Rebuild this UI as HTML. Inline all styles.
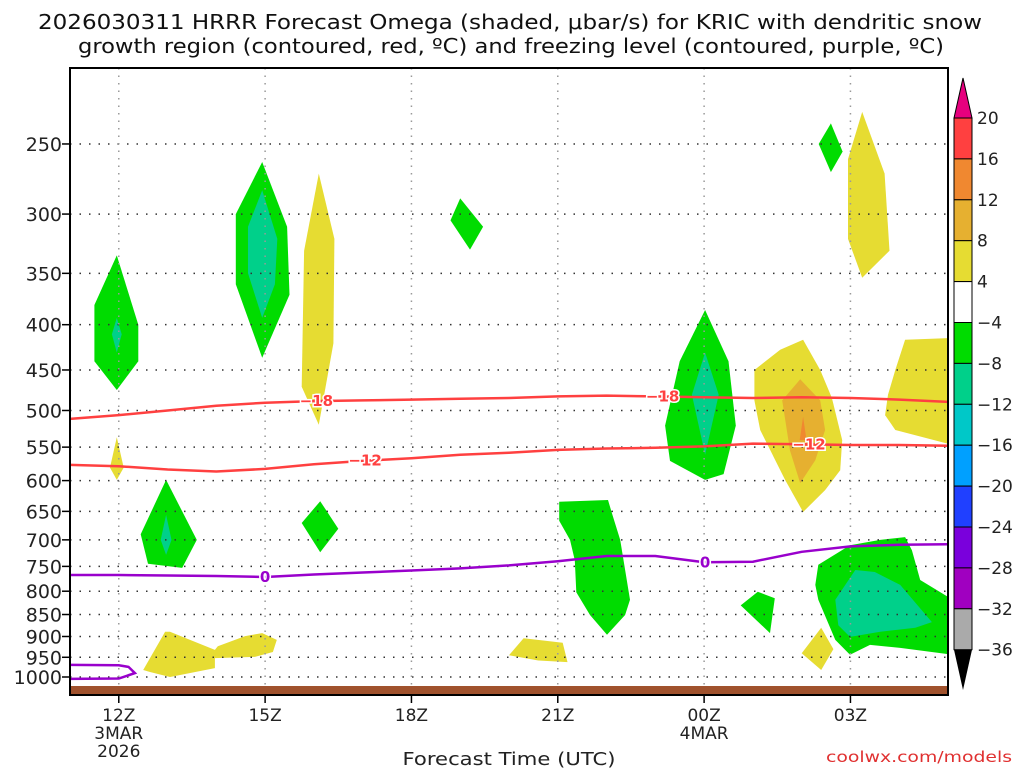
<!DOCTYPE html>
<html><head><meta charset="utf-8"><style>
body{margin:0;background:#fff;}
svg{display:block;font-family:"Liberation Sans",sans-serif;}
</style></head><body>
<svg id="chart" width="1024" height="768" viewBox="0 0 1024 768">
<text x="510" y="29" font-size="20" font-family="DejaVu Sans" text-anchor="middle" fill="#111" textLength="944" lengthAdjust="spacingAndGlyphs">2026030311 HRRR Forecast Omega (shaded, μbar/s) for KRIC with dendritic snow</text>
<text x="511" y="53" font-size="20" font-family="DejaVu Sans" text-anchor="middle" fill="#111" textLength="866" lengthAdjust="spacingAndGlyphs">growth region (contoured, red, ºC) and freezing level (contoured, purple, ºC)</text>
<g id="fills"></g>
<g id="grid"></g>
<g id="lines"></g>
<rect x="70" y="686" width="878" height="9" fill="#a0522d"/>
<rect x="70" y="68" width="878" height="627" fill="none" stroke="#000" stroke-width="2"/>
<g id="axes"></g>
<text x="509" y="765" font-size="18" font-family="DejaVu Sans" text-anchor="middle" fill="#222" textLength="213" lengthAdjust="spacingAndGlyphs">Forecast Time (UTC)</text>
<text x="1012" y="762" font-size="15" font-family="DejaVu Sans" text-anchor="end" fill="#e03030" textLength="186" lengthAdjust="spacingAndGlyphs">coolwx.com/models</text>
<g id="cbar"></g>
</svg>
<script>
const NS="http://www.w3.org/2000/svg";
const pLevels=[250,300,350,400,450,500,550,600,650,700,750,800,850,900,950,1000];
const xTickHours=[1,4,7,10,13,16];
const xTickLabels=["12Z","15Z","18Z","21Z","00Z","03Z"];
const hours=[0,1,2,3,4,5,6,7,8,9,10,11,12,13,14,15,16,17,18];
const dgz18=[511,506,500,494,490,488,487,486,485,484,482,481,482,483,484,483,484,486,489];
const dgz12=[576,578,583,586,582,575,570,566,561,558,554,552,551,549,545,546,547,547,548];
const frz0=[767,767,768,769,771,766,762,758,754,748,740,730,730,742,741,722,712,709,708];
const cbLevels=["20","16","12","8","4","−4","−8","−12","−16","−20","−24","−28","−32","−36"];
const cbColors=["#ff4040","#f08830","#e6b030","#e6dc32","#ffffff","#00dc00","#00d08a","#00c8c8","#00a0ff","#2040ff","#7a00dc","#a000c0","#aaaaaa"];
// blobs: [hour, pressure] polygons
const blobs=[
 {c:"#00dc00",pts:[[0.96,334],[1.4,400],[1.4,440],[0.96,474],[0.5,440],[0.5,380]]},
 {c:"#00d08a",pts:[[0.96,393],[1.06,410],[0.96,430],[0.86,410]]},
 {c:"#00dc00",pts:[[3.94,262],[4.45,310],[4.5,370],[3.94,436],[3.4,360],[3.4,300]]},
 {c:"#00d08a",pts:[[3.94,282],[4.25,320],[4.2,360],[3.94,393],[3.65,350],[3.65,310]]},
 {c:"#e6dc32",pts:[[5.1,270],[5.42,320],[5.4,420],[5.1,519],[4.75,470],[4.8,330]]},
 {c:"#00dc00",pts:[[8.0,288],[8.47,310],[8.2,329],[7.8,305]]},
 {c:"#e6dc32",pts:[[0.96,536],[1.1,580],[0.96,599],[0.82,580]]},
 {c:"#00dc00",pts:[[1.97,599],[2.6,700],[2.3,753],[1.6,745],[1.45,690]]},
 {c:"#00d08a",pts:[[1.97,656],[2.08,700],[1.97,728],[1.86,700]]},
 {c:"#00dc00",pts:[[5.13,633],[5.5,680],[5.13,723],[4.75,670]]},
 {c:"#00dc00",pts:[[13.02,385],[13.5,440],[13.65,520],[13.4,590],[13.02,599],[12.3,570],[12.2,520],[12.5,440]]},
 {c:"#00d08a",pts:[[13.02,430],[13.3,480],[13.02,561],[12.75,480]]},
 {c:"#e6dc32",pts:[[14.03,450],[14.56,427],[15.03,416],[15.38,450],[15.62,484],[15.83,540],[15.79,584],[15.48,615],[15.03,651],[14.66,599],[14.15,526],[14.03,487]]},
 {c:"#e6b030",pts:[[14.97,461],[15.38,487],[15.48,526],[15.28,569],[14.97,604],[14.76,555],[14.6,487]]},
 {c:"#f08830",pts:[[15.03,508],[15.1,540],[14.96,540]]},
 {c:"#e6dc32",pts:[[16.24,230],[16.7,270],[16.8,330],[16.24,354],[15.95,320],[15.95,260]]},
 {c:"#00dc00",pts:[[15.6,237],[15.84,255],[15.6,269],[15.35,250]]},
 {c:"#e6dc32",pts:[[18.1,414],[17.12,416],[16.92,450],[16.77,480],[16.71,506],[16.92,526],[18.1,547]]},
 {c:"#00dc00",pts:[[10.03,634],[11.03,631],[11.11,653],[11.28,700],[11.48,818],[11.38,851],[11.01,896],[10.66,851],[10.38,802],[10.35,738],[10.25,700],[10.03,666]]},
 {c:"#00dc00",pts:[[15.34,747],[15.99,710],[16.61,700],[17.12,695],[17.26,719],[17.43,777],[18.1,818],[18.1,944],[17.02,927],[16.4,920],[15.99,944],[15.69,908],[15.34,818],[15.28,787]]},
 {c:"#00d08a",pts:[[15.69,818],[16.1,757],[16.5,761],[17.02,787],[17.67,867],[17.33,880],[16.61,889],[15.99,901],[15.75,874]]},
 {c:"#00dc00",pts:[[14.1,801],[14.45,815],[14.35,892],[13.75,830]]},
 {c:"#e6dc32",pts:[[9.3,904],[10.1,915],[10.2,962],[9.6,958],[9.0,945]]},
 {c:"#e6dc32",pts:[[15.4,880],[15.65,930],[15.4,982],[15.0,940]]},
 {c:"#e6dc32",pts:[[1.5,982],[1.95,889],[2.05,889],[2.97,932],[3.03,923],[3.59,899],[3.94,892],[4.24,908],[4.16,937],[3.79,949],[2.97,952],[2.97,977],[2.05,1000],[1.64,987]]}
];
const frzLow=[[0,969],[1.0,970],[1.2,974],[1.33,990],[1.0,1004],[0,1005]];
const X0=70,X1=948,H0=0,H1=18.0;
function xs(h){return X0+(h-H0)*(X1-X0)/(H1-H0);}
function ys(p){return 677-384.5*Math.log(1000/p);}
function el(t,a,parent){const e=document.createElementNS(NS,t);for(const k in a)e.setAttribute(k,a[k]);parent.appendChild(e);return e;}
const fills=document.getElementById('fills');
const clip=el('clipPath',{id:'pc'},document.getElementById('chart'));
el('rect',{x:70,y:68,width:878,height:627},clip);
fills.setAttribute('clip-path','url(#pc)');
blobs.forEach((b,i)=>{
 const e=el('polygon',{points:b.pts.map(q=>xs(q[0]).toFixed(1)+','+ys(q[1]).toFixed(1)).join(' '),fill:b.c},fills);
 
 
});
const grid=document.getElementById('grid');
pLevels.forEach(p=>{
 const e=el('line',{x1:70,x2:948,y1:ys(p),y2:ys(p),stroke:'#333','stroke-width':1.5,'stroke-dasharray':'1.5 8'},grid);
 
 
});
xTickHours.forEach(h=>{
 const e=el('line',{x1:xs(h),x2:xs(h),y1:68,y2:695,stroke:'#999','stroke-width':1.5,'stroke-dasharray':'1.5 6'},grid);
 
 
});
const lines=document.getElementById('lines');
function drawLine(arr,color,name,labels,lbl){
 const d=hours.map((h,i)=>(i?'L':'M')+xs(h).toFixed(1)+','+ys(arr[i]).toFixed(1)).join(' ');
 const e=el('path',{d:d,fill:'none',stroke:color,'stroke-width':2.5},lines);
 
 
 labels.forEach(h=>{
  const i=Math.floor(h),f=h-i;const p=arr[i]+(arr[Math.min(i+1,18)]-arr[i])*f;
  const x=xs(h),y=ys(p);
  const t=el('text',{x:x,y:y+5,'font-size':15,'font-weight':'bold','font-family':'DejaVu Sans','text-anchor':'middle',fill:color,stroke:'#fff','stroke-width':3,'paint-order':'stroke'},lines);
  t.textContent=lbl;
  
  
 });
}
drawLine(dgz18,'#ff4040','dgz-minus18-line',[5.05,12.15],'−18');
drawLine(dgz12,'#ff4040','dgz-minus12-line',[6.05,15.15],'−12');
drawLine(frz0,'#9900cc','freezing-level-line',[4.0,13.02],'0');
const fl=el('path',{d:frzLow.map((q,i)=>(i?'L':'M')+xs(q[0]).toFixed(1)+','+ys(q[1]).toFixed(1)).join(' '),fill:'none',stroke:'#9900cc','stroke-width':2.5},lines);


const axes=document.getElementById('axes');
pLevels.forEach(p=>{
 const y=ys(p);
 el('line',{x1:62,x2:70,y1:y,y2:y,stroke:'#000','stroke-width':1.5},axes);
 const t=el('text',{x:62,y:y+7,'font-size':19,'font-family':'DejaVu Sans','text-anchor':'end',fill:'#222'},axes);
 t.textContent=p;
 
 
});
xTickHours.forEach((h,i)=>{
 const x=xs(h);
 el('line',{x1:x,x2:x,y1:695,y2:703,stroke:'#000','stroke-width':1.5},axes);
 const t=el('text',{x:x,y:721,'font-size':17,'font-family':'DejaVu Sans','text-anchor':'middle',fill:'#222'},axes);
 t.textContent=xTickLabels[i];
 
 
});
[["3MAR",1,739],["2026",1,757],["4MAR",13,739]].forEach(a=>{
 const t=el('text',{x:xs(a[1]),y:a[2],'font-size':17,'font-family':'DejaVu Sans','text-anchor':'middle',fill:'#222'},axes);
 t.textContent=a[0];
 
 
});
const cb=document.getElementById('cbar');
const cx=954,cw=18,ct=118,step=40.9;
el('polygon',{points:`${cx},${ct} ${cx+cw/2},78 ${cx+cw},${ct}`,fill:'#e6007e',stroke:'#000','stroke-width':1},cb);
cbColors.forEach((c,i)=>{
 const r=el('rect',{x:cx,y:ct+i*step,width:cw,height:step,fill:c,stroke:'#000','stroke-width':1},cb);
 
 
});
const cbBot=ct+cbColors.length*step;
el('polygon',{points:`${cx},${cbBot} ${cx+cw/2},690 ${cx+cw},${cbBot}`,fill:'#000'},cb);
cbLevels.forEach((l,i)=>{
 const t=el('text',{x:977,y:ct+i*step+6,'font-size':17,'font-family':'DejaVu Sans',fill:'#222'},cb);
 t.textContent=l;
 
 
});
</script>
</body></html>
